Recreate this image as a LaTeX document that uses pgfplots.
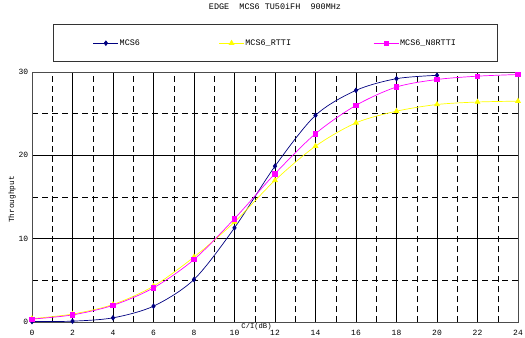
\documentclass[border=0pt]{standalone}
\usepackage{pgfplots}
\pgfplotsset{compat=1.18}
\usepackage{fontspec}
\setmainfont{Liberation Mono}
\definecolor{navyc}{RGB}{0,0,128}
\definecolor{yellc}{RGB}{255,255,0}
\definecolor{magc}{RGB}{255,0,255}
\begin{document}
\fontsize{8}{9}\selectfont
\begin{tikzpicture}
\begin{axis}[
  scale only axis,
  width=486bp, height=250bp,
  xmin=0, xmax=24, ymin=0, ymax=30,
  xtick={0,2,...,24}, ytick={0,10,20,30},
  minor x tick num=1, minor y tick num=1,
  major tick length=0pt, minor tick length=0pt,
  grid=both,
  major grid style={black, line width=0.5pt},
  minor grid style={black, line width=0.5pt, dash pattern=on 6bp off 4bp},
  axis line style={black!70, line width=0.8pt},
  /pgf/number format/assume math mode=true,
  tick label style={font=\fontsize{8}{9}\selectfont},
  xticklabel style={yshift=-5bp},
  yticklabel style={xshift=-1bp},
  title={EDGE\ \ MCS6\ TU50iFH\ \ 900MHz},
  title style={at={(0.5,1)}, anchor=south, yshift=54bp, font=\fontsize{8.5}{9}\selectfont},
  xlabel={C/I(dB)},
  xlabel style={at={(rel axis cs:0.462,0)}, anchor=north, inner sep=0pt, yshift=-1bp, font=\fontsize{7.2}{8}\selectfont},
  ylabel={Throughput},
  ylabel style={at={(rel axis cs:0,0.49)}, anchor=center, yshift=20bp, font=\fontsize{7.8}{9}\selectfont},
  legend columns=3,
  legend style={at={(rel axis cs:0.5,1)}, anchor=south, yshift=10bp,
    draw=black!80, line width=0.8pt, inner xsep=40bp, inner ysep=13bp,
    font=\fontsize{8.5}{9}\selectfont, legend cell align=left,
    nodes={inner xsep=1bp}},
  legend image code/.code={
    \draw[mark repeat=2,mark phase=2] plot coordinates {(0bp,0bp) (12.5bp,0bp) (25bp,0bp)};},
  every axis plot/.append style={line width=0.7pt},
]
\addplot[color=navyc, smooth, mark=diamond*, mark size=2.3pt, mark options={fill=navyc}]
  coordinates {(0,0.05) (2,0.1) (4,0.5) (6,1.9) (8,5.1) (10,11.3) (12,18.7) (14,24.8) (16,27.8) (18,29.2) (20,29.6)};
\addlegendentry{\makebox[98bp][l]{MCS6}}
\addplot[color=yellc, smooth, mark=triangle*, mark size=2.8pt, mark options={fill=yellc}]
  coordinates {(0,0.4) (2,0.95) (4,2.1) (6,4.3) (8,7.8) (10,12.0) (12,17.0) (14,21.1) (16,23.9) (18,25.3) (20,26.1) (22,26.4) (24,26.5)};
\addlegendentry{\makebox[127bp][l]{MCS6\_RTTI}}
\addplot[color=magc, smooth, mark=square*, mark size=2.2pt, mark options={fill=magc}]
  coordinates {(0,0.35) (2,0.85) (4,2.0) (6,4.1) (8,7.5) (10,12.4) (12,17.8) (14,22.6) (16,26.0) (18,28.2) (20,29.1) (22,29.5) (24,29.7)};
\addlegendentry{MCS6\_N8RTTI}
\end{axis}
\pgfresetboundingbox
\path ([shift={(-32bp,-16bp)}]current axis.south west) rectangle ([shift={(7bp,72bp)}]current axis.north east);
\end{tikzpicture}
\end{document}
